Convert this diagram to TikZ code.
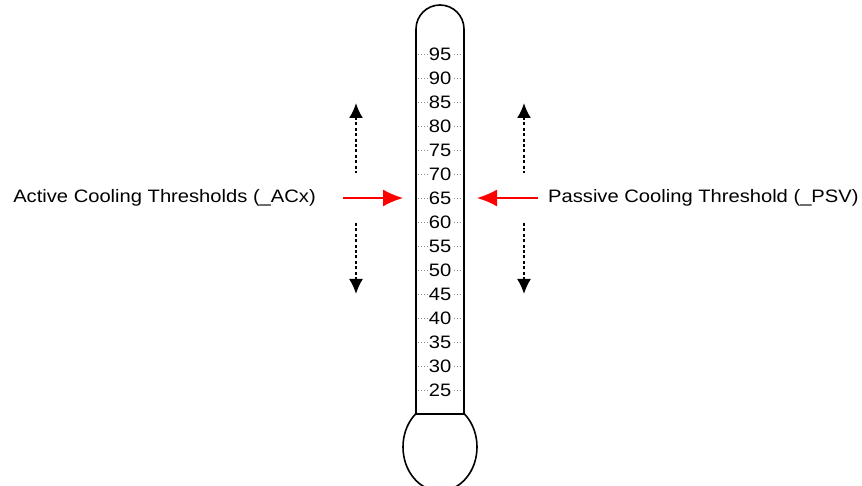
\documentclass[tikz,border=0pt]{standalone}
\usepackage{fontspec}
\setmainfont{Liberation Sans}[FakeStretch=1.12]
\usepackage{tikz}
\usetikzlibrary{arrows.meta,calc,positioning}
\definecolor{tubeline}{HTML}{000000}
\definecolor{tickline}{HTML}{8C8C8C}
\definecolor{push}{HTML}{FF0000}

\begin{document}
\begin{tikzpicture}[x=1pt,y=1pt,
    font=\fontsize{18}{20}\selectfont,
    tube/.style={draw=tubeline,line width=1.6pt,fill=white},
    tick/.style={draw=tickline,line width=0.8pt,dash pattern=on 0.8pt off 2.2pt},
    degree/.style={fill=white,inner sep=1pt},
    limit/.style={-{Latex[length=20pt,width=17pt]},line width=1.6pt,color=push},
    drift/.style={{Latex[length=15pt,width=14pt]}-,line width=2pt,dash pattern=on 3pt off 2.4pt}
  ]
  \useasboundingbox (0,0) rectangle (862,485);
  % bulb and tube
  \draw[tube] (440,38) ellipse[x radius=37,y radius=44];
  \draw[tube] (416,71) -- (416,456) arc[start angle=180,end angle=0,radius=24] -- (464,71) -- cycle;
  % scale marks
  \foreach \v in {25,30,...,95} {
    \draw[tick] (418,{431-(95-\v)*4.8}) -- (462,{431-(95-\v)*4.8});
    \node[degree] (deg\v) at (440,{431-(95-\v)*4.8}) {\v};
  }
  % labels
  \node[anchor=east,inner sep=0pt] (activelbl) at (316,287) {Active Cooling Thresholds (\_ACx)};
  \node[anchor=west,inner sep=0pt] (passivelbl) at (548,287) {Passive Cooling Threshold (\_PSV)};
  % threshold arrows
  \coordinate (acxtail) at (343,287);
  \coordinate (acxtip) at (403,287);
  \coordinate (psvtail) at (538,287);
  \coordinate (psvtip) at (477,287);
  \draw[limit] (acxtail) -- (acxtip);
  \draw[limit] (psvtail) -- (psvtip);
  % moving directions
  \coordinate (acxup) at (356,382);
  \coordinate (acxupend) at (356,312);
  \coordinate (acxdown) at (356,191);
  \coordinate (acxdownend) at (356,262);
  \coordinate (psvup) at (524,382);
  \coordinate (psvupend) at (524,312);
  \coordinate (psvdown) at (524,191);
  \coordinate (psvdownend) at (524,262);
  \draw[drift] (acxup) -- (acxupend);
  \draw[drift] (acxdown) -- (acxdownend);
  \draw[drift] (psvup) -- (psvupend);
  \draw[drift] (psvdown) -- (psvdownend);
\end{tikzpicture}
\end{document}
